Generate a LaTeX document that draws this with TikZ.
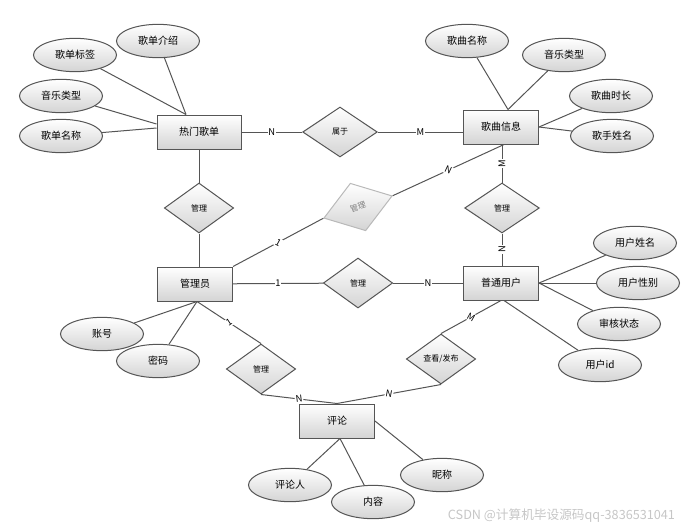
\documentclass[tikz,border=0pt]{standalone}
\usepackage{fontspec}
\setmainfont{Noto Sans CJK SC}
\usetikzlibrary{shapes.geometric}

\definecolor{lineGray}{RGB}{85,85,85}
\definecolor{shadeGray}{RGB}{212,212,212}

\tikzset{every picture/.style={line width=0.75pt}}
\tikzset{
  entity/.style={rectangle, draw=lineGray, top color=white, bottom color=shadeGray,
    minimum width=56.25pt, minimum height=25.5pt, inner sep=0.75pt, font=\fontsize{7.5}{9}\selectfont},
  attr/.style={ellipse, draw=lineGray, top color=white, bottom color=shadeGray,
    minimum width=62.25pt, minimum height=25pt, inner sep=0pt, font=\fontsize{7.5}{9}\selectfont},
  relation/.style={diamond, draw=lineGray, top color=white, bottom color=shadeGray,
    minimum width=52pt, minimum height=37.5pt, inner sep=0pt, font=\fontsize{6}{7}\selectfont},
  conn/.style={draw=lineGray},
  card/.style={fill=white, inner sep=0.6pt, font=\fontsize{7}{8}\selectfont}
}

\begin{document}
\begin{tikzpicture}[x=0.75pt,y=0.75pt,yscale=-1,xscale=1]
	\useasboundingbox (0,0) rectangle (684,529);
	
	% Entities
	\node [entity, minimum width=63pt] (rmgd) at (199,132) {热门歌单};
	\node [entity] (gqxx) at (501,127) {歌曲信息};
	\node [entity] (gly) at (195,284) {管理员};
	\node [entity] (ptyh) at (501,283) {普通用户};
	\node [entity] (pl) at (337,421) {评论};
	
	% Relations
	\node [relation, minimum width=56pt] (sy) at (340,132) {属于};
	\node [relation] (glA) at (199,208) {管理};
	\node [relation, minimum width=54pt, draw=gray!55, text=gray, rotate=18] (glB) at (358,207) {管理};
	\node [relation, minimum width=56pt] (glC) at (502,208) {管理};
	\node [relation] (glD) at (358,283) {管理};
	\node [relation] (glE) at (261,369) {管理};
	\node [relation] (ckfb) at (441,359) {查看/发布};
	
	% Attributes
	\node [attr] (gdjs) at (158,41) {歌单介绍};
	\node [attr] (gdbq) at (75,55) {歌单标签};
	\node [attr] (yylxA) at (61,96) {音乐类型};
	\node [attr] (gdmc) at (61,136) {歌单名称};
	\node [attr] (gqmc) at (467,41) {歌曲名称};
	\node [attr] (yylxB) at (564,55) {音乐类型};
	\node [attr] (gqsc) at (611,96) {歌曲时长};
	\node [attr] (gsxm) at (612,136) {歌手姓名};
	\node [attr] (yhxm) at (635,243) {用户姓名};
	\node [attr] (yhxb) at (638,283) {用户性别};
	\node [attr] (shzt) at (619,324) {审核状态};
	\node [attr] (yhid) at (600,365) {用户id};
	\node [attr] (zh) at (102,334) {账号};
	\node [attr] (mm) at (158,361) {密码};
	\node [attr] (plr) at (290,485) {评论人};
	\node [attr] (nr) at (373,502) {内容};
	\node [attr] (nc) at (442,475) {昵称};
	
	% Attribute links
	\draw [conn] (gdjs) -- ([shift={(-13,0)}]rmgd.north);
	\draw [conn] (gdbq) -- ([shift={(-13,0)}]rmgd.north);
	\draw [conn] (yylxA) -- ([shift={(0,-8)}]rmgd.west);
	\draw [conn] (gdmc) -- ([shift={(0,-4)}]rmgd.west);
	\draw [conn] (gqmc) -- ([shift={(7,0)}]gqxx.north);
	\draw [conn] (yylxB) -- ([shift={(7,0)}]gqxx.north);
	\draw [conn] (gqsc) -- (gqxx.east);
	\draw [conn] (gsxm) -- (gqxx.east);
	\draw [conn] (yhxm) -- (ptyh.east);
	\draw [conn] (yhxb) -- (ptyh.east);
	\draw [conn] (shzt) -- (ptyh.east);
	\draw [conn] (yhid) -- ([shift={(3,0)}]ptyh.south);
	\draw [conn] (zh) -- ([shift={(2,0)}]gly.south);
	\draw [conn] (mm) -- ([shift={(2,0)}]gly.south);
	\draw [conn] (plr) -- ([shift={(3,0)}]pl.south);
	\draw [conn] (nr) -- ([shift={(3,0)}]pl.south);
	\draw [conn] (nc) -- (pl.east);
	
	% Relation links
	\draw [conn] (rmgd) -- node [card] {N} (sy);
	\draw [conn] (sy.east) -- node [card] {M} (sy.east -| gqxx.west);
	\draw [conn] (rmgd) -- (glA);
	\draw [conn] (glA) -- (glA |- gly.north);
	\draw [conn] (glC.north |- gqxx.south) -- node [card, rotate=90] {M} (glC.north);
	\draw [conn] (glC.south) -- node [card, rotate=90] {N} (glC.south |- ptyh.north);
	\draw [conn] ([shift={(3,0)}]gqxx.south) -- node [card, sloped] {N} (glB.east);
	\draw [conn] (glB.west) -- node [card, sloped] {1} (gly.north east);
	\draw [conn] (gly) -- node [card] {1} (glD);
	\draw [conn] (glD) -- node [card] {N} (ptyh);
	\draw [conn] ([shift={(2,0)}]gly.south) -- node [card, sloped] {1} (glE.north);
	\draw [conn] (glE.south) -- node [card, sloped] {N} (pl.north);
	\draw [conn] (ckfb.south) -- node [card, sloped] {N} (pl.north);
	\draw [conn] (ptyh.south) -- node [card, sloped] {M} (ckfb.north);
	
	% Text Node
	\node [anchor=west, text=gray!45, font=\fontsize{9.5}{10}\selectfont] (wm) at (443,516) {CSDN @计算机毕设源码qq-3836531041};
	
\end{tikzpicture}
\end{document}
